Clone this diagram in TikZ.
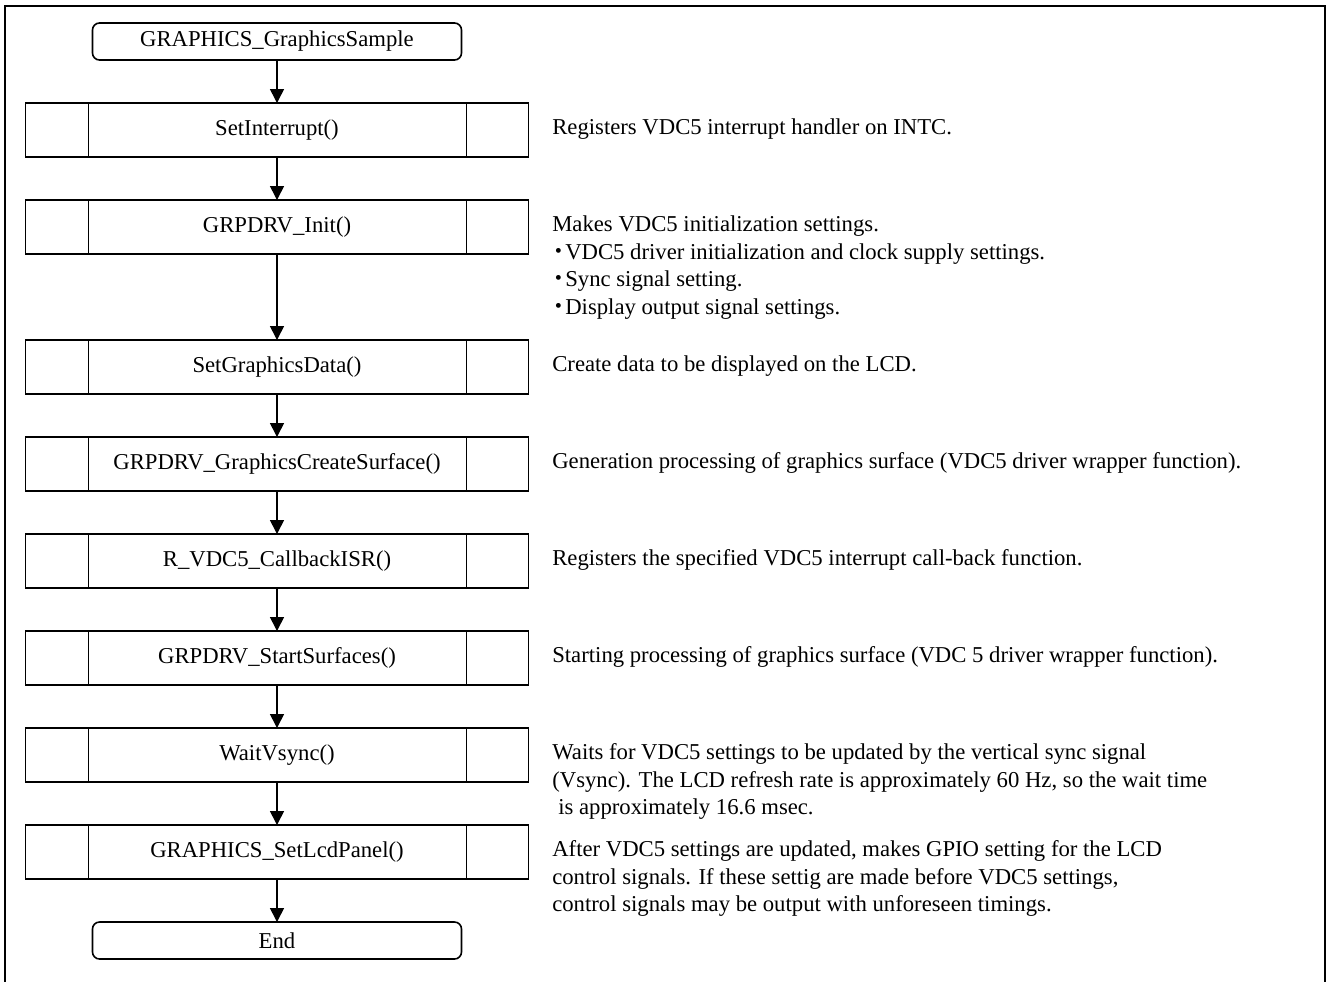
\documentclass[tikz,border=0pt]{standalone}
\usepackage{fontspec}
\setmainfont{Liberation Serif}
\newfontfamily\cjk{Noto Sans CJK JP}
\usetikzlibrary{positioning, arrows.meta}
\newcommand{\kdot}{\makebox[6.5pt][c]{\cjk ・}}
\newcommand{\notelines}[1]{\begin{tabular}[t]{@{}l@{}}#1\end{tabular}}

\begin{document}
\begin{tikzpicture}[x=0.5pt, y=-0.5pt, font=\fontsize{11.35pt}{13.8pt}\selectfont,
  >={Triangle[length=7pt, width=7pt]}, line width=0.8pt,
  term/.style={draw, rounded corners=3.5pt, minimum width=184.5pt, minimum height=18.5pt, inner sep=0pt, outer sep=0pt},
  proc/.style={draw, minimum width=251.5pt, minimum height=27pt, inner sep=0pt, outer sep=0pt,
    path picture={\draw ([xshift=31.5pt]path picture bounding box.north west) -- ([xshift=31.5pt]path picture bounding box.south west)
      ([xshift=-31pt]path picture bounding box.north east) -- ([xshift=-31pt]path picture bounding box.south east);}},
  note/.style={inner sep=0pt, anchor=base west, yshift=0.5pt}]
  \clip (0,0) rectangle (1326,981);
  \draw[line width=1pt] (5,6) rectangle (1324.5,1010);
  \node[term] (start) at (277,41.5) {GRAPHICS\_GraphicsSample};
  \node[proc, below=21.5pt of start] (b1) {SetInterrupt()};
  \node[proc, below=21.5pt of b1] (b2) {GRPDRV\_Init()};
  \node[proc, below=43pt of b2] (b3) {SetGraphicsData()};
  \node[proc, below=21.5pt of b3] (b4) {GRPDRV\_GraphicsCreateSurface()};
  \node[proc, below=21.5pt of b4] (b5) {R\_VDC5\_CallbackISR()};
  \node[proc, below=21.5pt of b5] (b6) {GRPDRV\_StartSurfaces()};
  \node[proc, below=21.5pt of b6] (b7) {WaitVsync()};
  \node[proc, below=21.5pt of b7] (b8) {GRAPHICS\_SetLcdPanel()};
  \node[term, below=21.5pt of b8] (end) {End};
  \draw[->] (start) -- (b1);
  \draw[->] (b1) -- (b2);
  \draw[->] (b2) -- (b3);
  \draw[->] (b3) -- (b4);
  \draw[->] (b4) -- (b5);
  \draw[->] (b5) -- (b6);
  \draw[->] (b6) -- (b7);
  \draw[->] (b7) -- (b8);
  \draw[->] (b8) -- (end);
  \node[right=11.5pt of b1.base east, note] (d1) {Registers VDC5 interrupt handler on INTC.};
  \node[right=11.5pt of b2.base east, note] (d2) {\notelines{Makes VDC5 initialization settings.\\
    \kdot VDC5 driver initialization and clock supply settings.\\
    \kdot Sync signal setting.\\
    \kdot Display output signal settings.}};
  \node[right=11.5pt of b3.base east, note] (d3) {Create data to be displayed on the LCD.};
  \node[right=11.5pt of b4.base east, note] (d4) {Generation processing of graphics surface (VDC5 driver wrapper function).};
  \node[right=11.5pt of b5.base east, note] (d5) {Registers the specified VDC5 interrupt call-back function.};
  \node[right=11.5pt of b6.base east, note] (d6) {Starting processing of graphics surface (VDC 5 driver wrapper function).};
  \node[right=11.5pt of b7.base east, note] (d7) {\notelines{Waits for VDC5 settings to be updated by the vertical sync signal\\
    (Vsync). The LCD refresh rate is approximately 60 Hz, so the wait time\\
    \hspace*{3pt}is approximately 16.6 msec.}};
  \node[right=11.5pt of b8.base east, note] (d8) {\notelines{After VDC5 settings are updated, makes GPIO setting for the LCD\\
    control signals. If these settig are made before VDC5 settings,\\
    control signals may be output with unforeseen timings.}};
\end{tikzpicture}
\end{document}
